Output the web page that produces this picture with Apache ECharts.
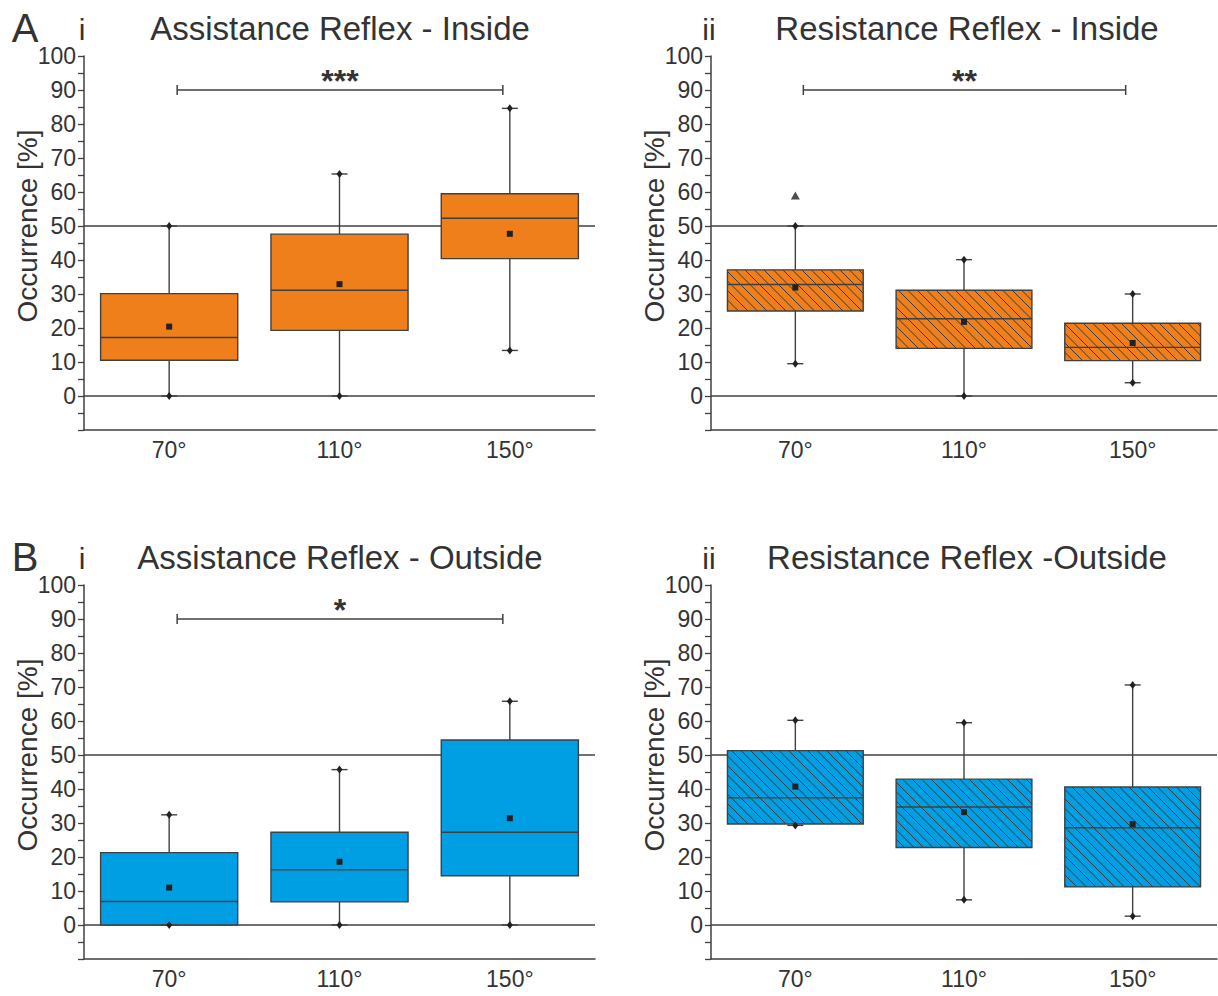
<!DOCTYPE html>
<html><head><meta charset="utf-8">
<script src="https://cdn.jsdelivr.net/npm/echarts/dist/echarts.min.js"></script>
<style>html,body{margin:0;padding:0;background:#fff}#chart{width:1218px;height:996px}</style>
</head><body><div id="chart"></div>
<script>
// ---- data ----
const categories = ['70°', '110°', '150°'];
const yTicks = [0, 10, 20, 30, 40, 50, 60, 70, 80, 90, 100];
// boxes: [min whisker, Q1, median, Q3, max whisker]
const assistInside = [[0, 10.5, 17.2, 30.1, 50], [0, 19.3, 31.1, 47.6, 65.3], [13.4, 40.4, 52.3, 59.5, 84.6]];
const assistInsideMean = [20.4, 32.9, 47.7];
const resistInside = [[9.5, 25.0, 32.8, 37.1, 50], [0, 14.0, 22.7, 31.1, 40.1], [3.9, 10.4, 14.3, 21.4, 30.0]];
const resistInsideMean = [31.9, 21.8, 15.6];
const resistInsideOutliers = [[0, 59.0]];
const assistOutside = [[0, 0, 6.9, 21.3, 32.4], [0, 6.8, 16.2, 27.3, 45.7], [0, 14.5, 27.3, 54.4, 65.8]];
const assistOutsideMean = [11.0, 18.6, 31.4];
const resistOutside = [[29.3, 29.7, 37.4, 51.3, 60.2], [7.4, 22.8, 34.7, 42.9, 59.5], [2.6, 11.2, 28.6, 40.6, 70.6]];
const resistOutsideMean = [40.7, 33.2, 29.7];
const referenceLines = [0, 50];
// significance: [from category, to category, level, label]
const sigAssistInside = [[0, 2, 90, '***']];
const sigResistInside = [[0, 2, 90, '**']];
const sigAssistOutside = [[0, 2, 90, '*']];
const sigResistOutside = [];

// ---- styles ----
const FONT = "'Liberation Sans', Arial, Helvetica, sans-serif";
const TEXT = '#333333';
const LINE = '#404040';
const ORANGE = '#EE7F1B';
const BLUE = '#009FE3';

const panels = [
  {letter: 'A', roman: 'i', title: 'Assistance Reflex - Inside', box: assistInside, mean: assistInsideMean, out: [], sig: sigAssistInside, color: ORANGE, hatch: false, grid: {left: 84, top: 56, width: 511, height: 374}},
  {letter: '', roman: 'ii', title: 'Resistance Reflex - Inside', box: resistInside, mean: resistInsideMean, out: resistInsideOutliers, sig: sigResistInside, color: ORANGE, hatch: true, grid: {left: 711, top: 56, width: 506, height: 374}},
  {letter: 'B', roman: 'i', title: 'Assistance Reflex - Outside', box: assistOutside, mean: assistOutsideMean, out: [], sig: sigAssistOutside, color: BLUE, hatch: false, grid: {left: 84, top: 585, width: 511, height: 374}},
  {letter: '', roman: 'ii', title: 'Resistance Reflex -Outside', box: resistOutside, mean: resistOutsideMean, out: [], sig: sigResistOutside, color: BLUE, hatch: true, grid: {left: 711, top: 585, width: 506, height: 374}}
];

function boxRenderer(color, hatch) {
  return function (params, api) {
    const i = api.value(0);
    const mn = api.value(1), q1 = api.value(2), md = api.value(3), q3 = api.value(4), mx = api.value(5), mean = api.value(6);
    const cx = api.coord([i, md])[0];
    const band = api.size([1, 0])[0];
    const w = band * 0.805;
    const Y = v => api.coord([i, v])[1];
    const x0 = cx - w / 2, x1 = cx + w / 2;
    const yq1 = Y(q1), yq3 = Y(q3), ymd = Y(md), ymn = Y(mn), ymx = Y(mx), ymean = Y(mean);
    const ls = {stroke: LINE, lineWidth: 1.4};
    const ch = [];
    ch.push({type: 'line', shape: {x1: cx, y1: ymx, x2: cx, y2: yq3}, style: ls});
    ch.push({type: 'line', shape: {x1: cx, y1: yq1, x2: cx, y2: ymn}, style: ls});
    ch.push({type: 'rect', shape: {x: x0, y: yq3, width: w, height: yq1 - yq3}, style: {fill: color, stroke: null}});
    if (hatch) {
      const d = 9.5;
      const cStart = Math.ceil((x0 - yq1) / d) * d;
      for (let c = cStart; c <= x1 - yq3; c += d) {
        const xs = Math.max(x0, yq3 + c), xe = Math.min(x1, yq1 + c);
        if (xe > xs) ch.push({type: 'line', shape: {x1: xs, y1: xs - c, x2: xe, y2: xe - c}, style: {stroke: '#3a3a3a', lineWidth: 1}});
      }
    }
    ch.push({type: 'rect', shape: {x: x0, y: yq3, width: w, height: yq1 - yq3}, style: {fill: null, stroke: LINE, lineWidth: 1.4}});
    ch.push({type: 'line', shape: {x1: x0, y1: ymd, x2: x1, y2: ymd}, style: ls});
    ch.push({type: 'rect', shape: {x: cx - 3, y: ymean - 3, width: 6, height: 6}, style: {fill: '#222'}});
    [ymn, ymx].forEach(yy => {
      ch.push({type: 'line', shape: {x1: cx - 8, y1: yy, x2: cx + 8, y2: yy}, style: ls});
      ch.push({type: 'polygon', shape: {points: [[cx, yy - 4], [cx + 3, yy], [cx, yy + 4], [cx - 3, yy]]}, style: {fill: '#222'}});
    });
    return {type: 'group', children: ch};
  };
}

function refRenderer(params, api) {
  const cs = params.coordSys;
  const y = api.coord([0, api.value(1)])[1];
  return {type: 'line', shape: {x1: cs.x, y1: y, x2: cs.x + cs.width, y2: y}, style: {stroke: LINE, lineWidth: 1.5}};
}

function sigRenderer(labels) {
  return function (params, api) {
    const p1 = api.coord([api.value(0), api.value(2)]);
    const p2 = api.coord([api.value(1), api.value(2)]);
    const xa = p1[0] + 8, xb = p2[0] - 7, y = p1[1];
    const ls = {stroke: LINE, lineWidth: 1.5};
    return {type: 'group', children: [
      {type: 'line', shape: {x1: xa, y1: y, x2: xb, y2: y}, style: ls},
      {type: 'line', shape: {x1: xa, y1: y - 5, x2: xa, y2: y + 5}, style: ls},
      {type: 'line', shape: {x1: xb, y1: y - 5, x2: xb, y2: y + 5}, style: ls},
      {type: 'text', style: {text: labels[params.dataIndex], x: (xa + xb) / 2, y: y - 9, align: 'center', verticalAlign: 'middle', font: 'bold 32px ' + FONT, fill: TEXT}}
    ]};
  };
}

const grids = [], xAxes = [], yAxes = [], series = [], graphics = [];
panels.forEach((p, k) => {
  grids.push(Object.assign({outerBoundsMode: 'none', containLabel: false}, p.grid));
  xAxes.push({
    type: 'category', gridIndex: k, data: categories, boundaryGap: true,
    axisLine: {onZero: false, lineStyle: {color: LINE, width: 1.5}},
    axisTick: {alignWithLabel: true, length: 6, lineStyle: {color: LINE, width: 1.3}},
    axisLabel: {color: TEXT, fontSize: 23, fontFamily: FONT, margin: 8}
  });
  yAxes.push({
    type: 'value', gridIndex: k, min: -10, max: 100, interval: 10,
    axisLine: {show: true, lineStyle: {color: LINE, width: 1.5}},
    axisTick: {show: true, length: 6, lineStyle: {color: LINE, width: 1.3}},
    minorTick: {show: true, splitNumber: 2, length: 6, lineStyle: {color: LINE, width: 1.3}},
    splitLine: {show: false},
    axisLabel: {color: TEXT, fontSize: 23, fontFamily: FONT, margin: 8, formatter: v => (yTicks.indexOf(v) >= 0 ? String(v) : '')}
  });
  series.push({
    type: 'custom', xAxisIndex: k, yAxisIndex: k, z: 1, silent: true,
    data: referenceLines.map(v => [0, v]), encode: {x: 0, y: 1}, renderItem: refRenderer
  });
  series.push({
    type: 'custom', xAxisIndex: k, yAxisIndex: k, z: 3, silent: true,
    data: p.box.map((b, i) => [i, b[0], b[1], b[2], b[3], b[4], p.mean[i]]),
    encode: {x: 0, y: [1, 2, 3, 4, 5, 6]}, renderItem: boxRenderer(p.color, p.hatch)
  });
  if (p.out.length) series.push({
    type: 'scatter', xAxisIndex: k, yAxisIndex: k, z: 4, silent: true,
    symbol: 'triangle', symbolSize: [9, 8], itemStyle: {color: '#222'}, data: p.out
  });
  if (p.sig.length) series.push({
    type: 'custom', xAxisIndex: k, yAxisIndex: k, z: 4, silent: true,
    data: p.sig.map(s => [s[0], s[1], s[2]]), encode: {x: [0, 1], y: 2},
    renderItem: sigRenderer(p.sig.map(s => s[3]))
  });
  const gl = p.grid.left, gt = p.grid.top;
  const titleY = gt - 28;
  if (p.letter) graphics.push({type: 'text', x: 25, y: titleY, style: {text: p.letter, font: '40px ' + FONT, fill: TEXT, align: 'center', verticalAlign: 'middle'}});
  graphics.push({type: 'text', x: gl - 2, y: titleY + 1, style: {text: p.roman, font: '30px ' + FONT, fill: TEXT, align: 'center', verticalAlign: 'middle'}});
  graphics.push({type: 'text', x: gl + 256, y: titleY, style: {text: p.title, font: '33px ' + FONT, fill: TEXT, align: 'center', verticalAlign: 'middle'}});
  graphics.push({type: 'text', x: gl - 57, y: gt + 170, rotation: Math.PI / 2, style: {text: 'Occurrence [%]', font: '28px ' + FONT, fill: TEXT, align: 'center', verticalAlign: 'middle'}});
});

const chart = echarts.init(document.getElementById('chart'), null, {renderer: 'svg', width: 1218, height: 996});
chart.setOption({
  animation: false,
  backgroundColor: '#ffffff',
  textStyle: {fontFamily: FONT},
  grid: grids, xAxis: xAxes, yAxis: yAxes, series: series,
  graphic: graphics
});
</script></body></html>
